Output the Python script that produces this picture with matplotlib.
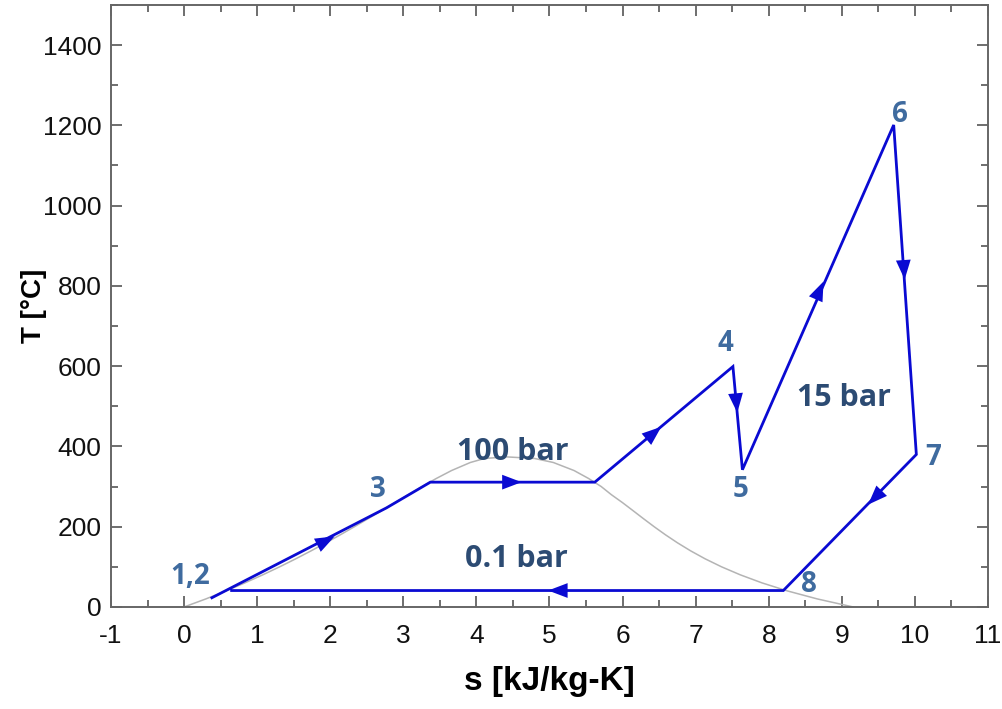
import matplotlib
matplotlib.use("Agg")
import matplotlib.pyplot as plt
from matplotlib.ticker import MultipleLocator
import numpy as np

plt.rcParams["axes.unicode_minus"] = False

# Saturation dome of water (T in °C, s in kJ/kg-K)
dome_T_liq = [0.01, 20, 40, 60, 80, 100, 120, 140, 160, 180, 200, 220, 240, 260, 280, 300, 320, 340, 360, 370, 374]
dome_s_liq = [0.0, 0.2965, 0.5724, 0.8312, 1.0753, 1.3069, 1.5278, 1.7391, 1.9426, 2.1392, 2.3305, 2.5177,
              2.7020, 2.8849, 3.0685, 3.2552, 3.4494, 3.6601, 3.9167, 4.1104, 4.41]
dome_T_vap = [374, 370, 360, 340, 320, 300, 280, 260, 240, 220, 200, 180, 160, 140, 120, 100, 80, 60, 40, 20, 0.01]
dome_s_vap = [4.41, 4.7971, 5.0526, 5.3357, 5.5362, 5.7081, 5.8451, 5.9989, 6.1431, 6.2861, 6.4322, 6.5857,
              6.7502, 6.9299, 7.1296, 7.3549, 7.6122, 7.9082, 8.2556, 8.6661, 9.1556]

# Cycle path
cycle_s = [0.38, 2.77, 3.37, 5.62, 7.51, 7.64, 9.71, 10.02, 8.20, 0.65]
cycle_T = [23, 247, 311, 311, 599, 342, 1201, 380, 41, 41]

# Arrow positions (s, T) and segment index they sit on
arrow_s = [2.06, 4.60, 6.53, 7.57, 8.75, 9.86, 9.36, 5.00]
arrow_T = [176, 311, 449, 484, 811, 816, 255, 41]
arrow_seg = [0, 2, 3, 4, 5, 6, 7, 8]

# State labels
state_labels = ["1,2", "3", "4", "5", "6", "7", "8"]
state_s = [0.08, 2.65, 7.4, 7.62, 9.8, 10.25, 8.55]
state_T = [75, 293, 657, 293, 1228, 372, 55]

pressure_labels = ["100 bar", "0.1 bar", "15 bar"]
pressure_s = [4.5, 4.54, 9.03]
pressure_T = [385, 120, 520]

fig = plt.figure(figsize=(10.03, 7.09), dpi=100)
ax = fig.add_axes([0.1107, 0.1439, 0.8743, 0.8491])

line_blue = "#0a0ad2"
ax.plot(dome_s_liq + dome_s_vap, dome_T_liq + dome_T_vap, color="#b4b4b4", lw=1.1, zorder=2)
ax.plot(cycle_s, cycle_T, color=line_blue, lw=2.0, zorder=3, solid_joinstyle="miter")

for s0, T0, k in zip(arrow_s, arrow_T, arrow_seg):
    ds = cycle_s[k + 1] - cycle_s[k]
    dT = cycle_T[k + 1] - cycle_T[k]
    p0 = ax.transData.transform((cycle_s[k], cycle_T[k]))
    p1 = ax.transData.transform((cycle_s[k + 1], cycle_T[k + 1]))
    frac = 0.02 / max(np.hypot(*(p1 - p0)) / 800, 1e-6)
    ax.annotate("", xy=(s0 + ds * frac, T0 + dT * frac), xytext=(s0, T0),
                arrowprops=dict(arrowstyle="-|>,head_length=1.0,head_width=0.38", color=line_blue,
                                lw=0, mutation_scale=14, shrinkA=0, shrinkB=0), zorder=4)

num_color = "#3f6b9f"
pres_color = "#2c4b73"
for lab, s0, T0 in zip(state_labels, state_s, state_T):
    ax.text(s0, T0, lab, color=num_color, fontsize=20, fontweight="bold", family="Open Sans",
            ha="center", va="center", zorder=5)
for lab, s0, T0 in zip(pressure_labels, pressure_s, pressure_T):
    ax.text(s0, T0, lab, color=pres_color, fontsize=22, fontweight="bold", family="Open Sans",
            ha="center", va="center", zorder=5)

ax.set_xlim(-1, 11)
ax.set_ylim(0, 1500)
ax.set_xticks(range(-1, 12))
ax.set_yticks(range(0, 1401, 200))
ax.xaxis.set_minor_locator(MultipleLocator(0.5))
ax.yaxis.set_minor_locator(MultipleLocator(100))
ax.tick_params(which="both", direction="in", top=True, right=True, colors="#555555",
               labelcolor="#111111", labelsize=19, width=1.2)
ax.tick_params(which="major", length=8)
ax.tick_params(axis="x", which="major", pad=12)
ax.tick_params(axis="y", which="major", pad=7)
ax.tick_params(which="minor", length=5)
for lab in ax.get_xticklabels() + ax.get_yticklabels():
    lab.set_family("Liberation Sans")
for sp in ax.spines.values():
    sp.set_color("#666666")
    sp.set_linewidth(1.4)

ax.set_xlabel("s [kJ/kg-K]", fontsize=24, fontweight="bold", family="Liberation Sans", labelpad=13)
ax.set_ylabel("T [°C]", fontsize=20, fontweight="bold", family="Liberation Sans", labelpad=-3)

fig.savefig("out.png", dpi=100)
